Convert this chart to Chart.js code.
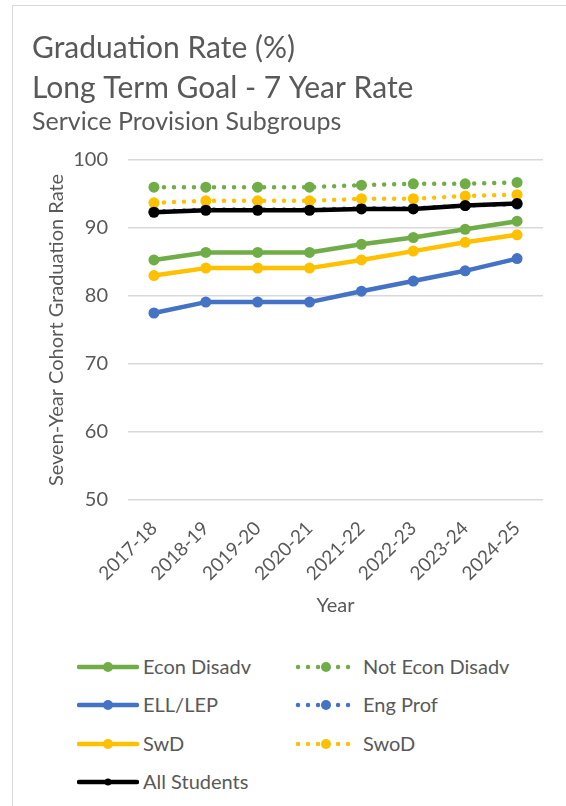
<!DOCTYPE html>
<html>
<head>
<meta charset="utf-8">
<script src="https://cdn.jsdelivr.net/npm/chart.js@4.4.1/dist/chart.umd.min.js"></script>
<style>
  body { margin: 0; background: #fff; font-family: Lato, sans-serif; }
  #frame { position: absolute; left: 12px; top: 5px; width: 620px; height: 880px; border: 1px solid #d9d9d9; }
  #chart { position: absolute; left: 0; top: 0; }
  .swatch { position: absolute; }
  .label { position: absolute; font-size: 20px; color: #595959; line-height: 24px; white-space: nowrap; }
</style>
</head>
<body>
<div id="frame"></div>
<canvas id="chart" width="566" height="640"></canvas>
<div id="legend"></div>
<script>
// data
const years = ['2017-18', '2018-19', '2019-20', '2020-21', '2021-22', '2022-23', '2023-24', '2024-25'];
const econDisadv    = [85.3, 86.4, 86.4, 86.4, 87.6, 88.6, 89.8, 91.0];
const notEconDisadv = [96.0, 96.0, 96.0, 96.0, 96.3, 96.5, 96.5, 96.7];
const ellLep        = [77.5, 79.1, 79.1, 79.1, 80.7, 82.2, 83.7, 85.5];
const engProf       = [92.4, 92.7, 92.7, 92.7, 92.9, 92.9, 93.3, 93.5];
const swd           = [83.0, 84.1, 84.1, 84.1, 85.3, 86.6, 87.9, 89.0];
const swod          = [93.7, 94.0, 94.0, 94.0, 94.3, 94.3, 94.7, 94.9];
const allStudents   = [92.3, 92.6, 92.6, 92.6, 92.8, 92.8, 93.3, 93.6];
const yTicks = [50, 60, 70, 80, 90, 100];

const GREEN = '#70ad47', BLUE = '#4472c4', GOLD = '#ffc000', BLACK = '#000000';

function line(label, data, color, dotted, order) {
  return {
    label: label,
    data: data,
    borderColor: color,
    backgroundColor: color,
    borderWidth: 4.5,
    borderDash: dotted ? [0.01, 10] : [],
    borderCapStyle: 'round',
    borderJoinStyle: 'round',
    pointRadius: 5.5,
    pointBorderWidth: 0,
    pointBackgroundColor: color,
    tension: 0,
    order: order,
    dotted: dotted
  };
}

Chart.defaults.font.family = 'Lato, sans-serif';
Chart.defaults.color = '#595959';

const chart = new Chart(document.getElementById('chart'), {
  type: 'line',
  data: {
    labels: years,
    datasets: [
      line('Econ Disadv', econDisadv, GREEN, false, 3),
      line('Not Econ Disadv', notEconDisadv, GREEN, true, 3),
      line('ELL/LEP', ellLep, BLUE, false, 3),
      line('Eng Prof', engProf, BLUE, true, 3),
      line('SwD', swd, GOLD, false, 3),
      line('SwoD', swod, GOLD, true, 2),
      line('All Students', allStudents, BLACK, false, 1)
    ]
  },
  options: {
    responsive: false,
    animation: false,
    layout: { padding: { left: 32, right: 23, top: 0, bottom: 0 } },
    plugins: {
      legend: { display: false },
      tooltip: { enabled: false },
      title: {
        display: true,
        align: 'start',
        text: ['Graduation Rate (%)', 'Long Term Goal - 7 Year Rate'],
        font: { size: 30, weight: 'normal', lineHeight: 1.333 },
        padding: { top: 28, bottom: 0 }
      },
      subtitle: {
        display: true,
        align: 'start',
        text: 'Service Provision Subgroups',
        font: { size: 25, lineHeight: 1.0 },
        padding: { top: 1.5, bottom: 25.5 }
      }
    },
    scales: {
      x: {
        offset: true,
        grid: { display: false },
        border: { display: false },
        ticks: { font: { size: 19 }, minRotation: 45, maxRotation: 45, padding: 9 },
        title: { display: true, text: 'Year', font: { size: 20 }, padding: { top: 0, bottom: 22 } },
        afterFit: function (s) { s.paddingLeft = 0; s.paddingRight = 0; s.height = 140; }
      },
      y: {
        min: 50,
        max: 100,
        afterBuildTicks: function (axis) { axis.ticks = yTicks.map(v => ({ value: v })); },
        grid: { color: '#d9d9d9', lineWidth: 1.5, drawTicks: false },
        border: { display: false },
        ticks: { font: { size: 20 }, padding: 20 },
        title: { display: true, text: 'Seven-Year Cohort Graduation Rate', font: { size: 20 }, padding: { top: 13, bottom: 4 } },
        afterFit: function (s) { s.width = 96; }
      }
    }
  }
});

// legend in two columns, built from the datasets
const legend = document.getElementById('legend');
chart.data.datasets.forEach(function (d, i) {
  const col = i % 2, row = Math.floor(i / 2);
  const left = col ? 295 : 77;
  const cy = 667 + row * 38.3;
  const c = document.createElement('canvas');
  c.width = 62; c.height = 20;
  c.className = 'swatch';
  c.style.left = left + 'px';
  c.style.top = (cy - 10) + 'px';
  legend.appendChild(c);
  const ctx = c.getContext('2d');
  ctx.strokeStyle = d.borderColor;
  ctx.lineWidth = d.borderWidth;
  ctx.lineCap = 'round';
  ctx.setLineDash(d.borderDash);
  ctx.beginPath();
  ctx.moveTo(d.dotted ? 3 : 2, 10);
  ctx.lineTo(60, 10);
  ctx.stroke();
  ctx.fillStyle = d.borderColor;
  ctx.beginPath();
  ctx.arc(31, 10, d.label === 'All Students' ? 3.5 : 5, 0, Math.PI * 2);
  ctx.fill();
  const t = document.createElement('div');
  t.className = 'label';
  t.textContent = d.label;
  t.style.left = (col ? 363 : 143) + 'px';
  t.style.top = (cy - 13) + 'px';
  legend.appendChild(t);
});
</script>
</body>
</html>
